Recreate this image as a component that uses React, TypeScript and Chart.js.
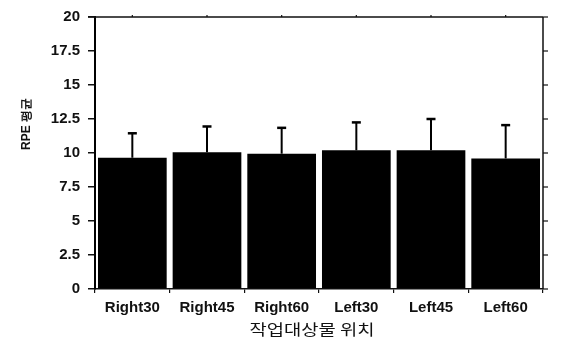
import React, { useEffect, useRef } from "react";
import { Chart, registerables } from "chart.js";

Chart.register(...registerables);

// Working positions of the target object
const categories = ["Right30", "Right45", "Right60", "Left30", "Left45", "Left60"];
// Mean RPE per position
const rpeMean = [9.65, 10.05, 9.95, 10.2, 10.2, 9.6];
// Standard deviation (upper error bar only)
const rpeSd = [1.8, 1.9, 1.9, 2.05, 2.3, 2.45];

const yTitle = "RPE 평균";
const xTitle = "작업대상물 위치";

const FONT = "'Liberation Sans', Arial, sans-serif";

// Upper-only error bars with a flat cap
const errorBarPlugin = {
  id: "errorBars",
  afterDatasetsDraw(chart: any) {
    const meta = chart.getDatasetMeta(0);
    const yScale = chart.scales.y;
    const ctx = chart.ctx;
    ctx.save();
    ctx.strokeStyle = "#000";
    meta.data.forEach((bar: any, i: number) => {
      const x = bar.x;
      const yTop = yScale.getPixelForValue(rpeMean[i] + rpeSd[i]);
      const yBase = yScale.getPixelForValue(rpeMean[i]);
      ctx.lineWidth = 2;
      ctx.beginPath();
      ctx.moveTo(x, yBase);
      ctx.lineTo(x, yTop);
      ctx.stroke();
      ctx.lineWidth = 2.5;
      ctx.beginPath();
      ctx.moveTo(x - 4.5, yTop);
      ctx.lineTo(x + 4.5, yTop);
      ctx.stroke();
    });
    ctx.restore();
  },
};

// Closed frame: top and right borders with outward tick marks, plus axis titles
const framePlugin = {
  id: "frame",
  afterDraw(chart: any) {
    const { ctx, chartArea } = chart;
    const { left, right, top, bottom } = chartArea;
    const yScale = chart.scales.y;
    const xScale = chart.scales.x;
    ctx.save();
    ctx.strokeStyle = "#111";
    ctx.lineWidth = 1.5;
    ctx.beginPath();
    ctx.moveTo(left - 7, top);
    ctx.lineTo(right, top);
    ctx.moveTo(right, top);
    ctx.lineTo(right, bottom);
    ctx.stroke();
    ctx.lineWidth = 1.2;
    yScale.ticks.forEach((t: any) => {
      const y = yScale.getPixelForValue(t.value);
      ctx.beginPath();
      ctx.moveTo(right, y);
      ctx.lineTo(right + 5, y);
      ctx.stroke();
    });
    categories.forEach((_, i) => {
      const x = xScale.getPixelForValue(i);
      ctx.beginPath();
      ctx.moveTo(x, top);
      ctx.lineTo(x, top - 2);
      ctx.stroke();
    });

    ctx.fillStyle = "#111";
    // x-axis title
    ctx.font = `15px 'Noto Sans CJK KR', sans-serif`;
    ctx.textAlign = "center";
    ctx.textBaseline = "middle";
    ctx.save();
    ctx.translate(312, 329);
    ctx.scale(1.25, 1);
    ctx.fillText(xTitle, 0, 0);
    ctx.restore();

    // y-axis title
    ctx.save();
    ctx.translate(27, 124);
    ctx.rotate(-Math.PI / 2);
    ctx.font = `bold 12px ${FONT}`;
    ctx.fillText(yTitle, 0, 0);
    ctx.restore();
    ctx.restore();
  },
};

export default function App() {
  const canvasRef = useRef<HTMLCanvasElement | null>(null);

  useEffect(() => {
    const canvas = canvasRef.current;
    if (!canvas) return;
    const chart = new Chart(canvas, {
      type: "bar",
      data: {
        labels: categories,
        datasets: [
          {
            data: rpeMean,
            backgroundColor: "#000",
            borderWidth: 0,
            barPercentage: 0.92,
            categoryPercentage: 1,
          },
        ],
      },
      options: {
        responsive: false,
        animation: false,
        layout: { padding: { top: 11.5, right: 18, left: 0, bottom: 0 } },
        plugins: {
          legend: { display: false },
          tooltip: { enabled: false },
          title: { display: false },
        },
        scales: {
          x: {
            offset: true,
            grid: {
              display: true,
              drawOnChartArea: false,
              drawTicks: true,
              tickLength: 4,
              color: "#111",
              lineWidth: 1.2,
            },
            border: { display: true, color: "#111", width: 1.5 },
            ticks: {
              color: "#111",
              padding: 6,
              maxRotation: 0,
              font: { family: FONT, size: 15, weight: "bold" },
            },
            afterFit(scale: any) {
              scale.height = 60;
            },
          },
          y: {
            min: 0,
            max: 20,
            grid: {
              display: true,
              drawOnChartArea: false,
              drawTicks: true,
              tickLength: 7,
              color: "#111",
              lineWidth: 1.5,
            },
            border: { display: true, color: "#000", width: 2 },
            ticks: {
              stepSize: 2.5,
              color: "#111",
              padding: 8,
              font: { family: FONT, size: 15, weight: "bold" },
            },
            afterFit(scale: any) {
              scale.width = 95;
            },
          },
        },
      },
      plugins: [errorBarPlugin, framePlugin],
    });
    return () => chart.destroy();
  }, []);

  return (
    <div style={{ position: "fixed", left: 0, top: 0, width: 561, height: 349, background: "#fff" }}>
      <canvas ref={canvasRef} width={561} height={349} style={{ display: "block" }} />
    </div>
  );
}
